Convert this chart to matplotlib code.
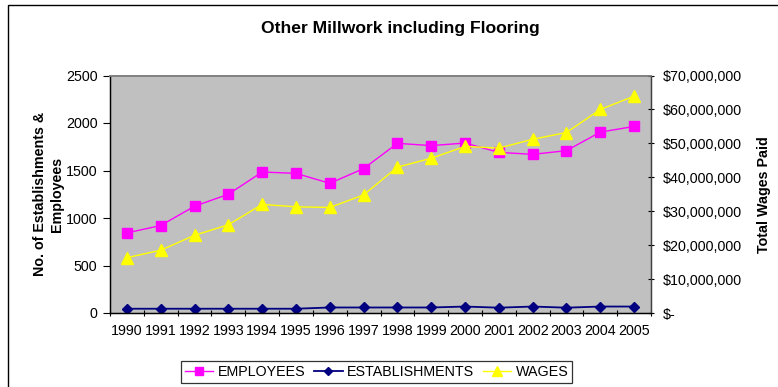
import matplotlib
matplotlib.use("Agg")
import matplotlib.pyplot as plt
from matplotlib.ticker import FixedLocator, FuncFormatter
from matplotlib.patches import Rectangle

plt.rcParams['font.family'] = ['Liberation Sans', 'DejaVu Sans']

years = [str(y) for y in range(1990, 2006)]
employees = [843, 921, 1124, 1250, 1484, 1470, 1365, 1520, 1786, 1762,
             1789, 1691, 1670, 1709, 1904, 1964]
establishments = [45, 45, 45, 45, 45, 45, 58, 58, 58, 58,
                  68, 56, 68, 56, 68, 68]
wages = [16.3e6, 18.5e6, 22.9e6, 26.0e6, 32.0e6, 31.3e6, 31.1e6, 34.8e6,
         43.0e6, 45.6e6, 49.1e6, 48.6e6, 51.2e6, 53.2e6, 60.0e6, 63.9e6]

left_ticks = [0, 500, 1000, 1500, 2000, 2500]
right_ticks = [0, 10e6, 20e6, 30e6, 40e6, 50e6, 60e6, 70e6]

W, H = 778, 387
fig = plt.figure(figsize=(W / 100, H / 100), dpi=100)

# outer chart frame
fig.patches.append(Rectangle((8 / W, -0.05), 1.2, 1 - 5 / H + 0.05,
                             transform=fig.transFigure, fill=False,
                             edgecolor='black', linewidth=1.0))

ax = fig.add_axes([110 / W, 1 - 313 / H, (651 - 110) / W, (313 - 75.5) / H])
ax.set_facecolor('#C0C0C0')
ax2 = ax.twinx()

x = list(range(len(years)))
fs = 10.3

l1, = ax.plot(x, employees, color='#FF00FF', marker='s', markersize=6.5,
              linewidth=1.0, label='EMPLOYEES')
l2, = ax.plot(x, establishments, color='#000080', marker='D', markersize=5,
              linewidth=1.3, label='ESTABLISHMENTS')
l3, = ax2.plot(x, wages, color='#FFFF00', marker='^', markersize=8,
               linewidth=1.0, label='WAGES')

ax.set_xlim(-0.5, len(years) - 0.5)
ax.set_ylim(0, 2500)
ax2.set_ylim(0, 70e6)

ax.xaxis.set_major_locator(FixedLocator(x))
ax.set_xticklabels(years, fontsize=fs)
ax.xaxis.set_minor_locator(FixedLocator([i - 0.5 for i in range(len(years) + 1)]))
ax.tick_params(axis='x', which='major', length=0, pad=8)
ax.tick_params(axis='x', which='minor', length=5, direction='inout', width=0.8)

ax.set_yticks(left_ticks)
ax.set_yticklabels([str(v) for v in left_ticks], fontsize=fs)
ax.tick_params(axis='y', length=5, width=0.8, direction='out', pad=4)

ax2.set_yticks(right_ticks)
ax2.yaxis.set_major_formatter(FuncFormatter(
    lambda v, p: '$-' if v == 0 else '${:,.0f}'.format(v)))
ax2.tick_params(axis='y', length=5, width=0.8, direction='inout', pad=6,
                labelsize=fs)

for a in (ax, ax2):
    for s in a.spines.values():
        s.set_linewidth(0.9)
    a.spines['top'].set_color('#808080')
    a.spines['top'].set_linewidth(1.2)
    a.spines['left'].set_color('black')
    a.spines['bottom'].set_color('black')
    a.spines['right'].set_color('#404040')

ax.set_ylabel('No. of Establishments &\nEmployees', fontsize=fs,
              fontweight='bold', linespacing=1.25)
ax.yaxis.set_label_coords(-0.085, 0.5)
ax2.set_ylabel('Total Wages Paid', fontsize=fs, fontweight='bold')
ax2.yaxis.set_label_coords(1.196, 0.5)

fig.text(400 / W, 1 - 28 / H, 'Other Millwork including Flooring',
         ha='center', va='center', fontsize=12.6, fontweight='bold')

leg = fig.legend(handles=[l1, l2, l3], loc='center',
                 bbox_to_anchor=(376.5 / W, 1 - 372 / H), ncol=3,
                 fontsize=fs, frameon=True, fancybox=False,
                 handlelength=2.0, columnspacing=0.6, handletextpad=0.3,
                 borderpad=0.3, markerscale=0.85)
leg.get_frame().set_edgecolor('black')
leg.get_frame().set_linewidth(0.9)

fig.savefig('out.png', dpi=100)
